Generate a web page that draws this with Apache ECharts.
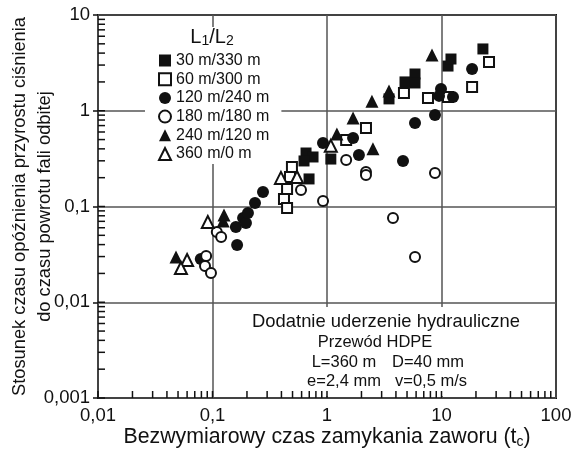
<!DOCTYPE html>
<html><head><meta charset="utf-8">
<script src="https://cdn.jsdelivr.net/npm/echarts@6/dist/echarts.min.js"></script>
<style>html,body{margin:0;padding:0;background:#fff}#c{width:577px;height:452px}</style>
</head><body><div id="c"></div>
<script>
const seriesNames = ['30 m/330 m','60 m/300 m','120 m/240 m','180 m/180 m','240 m/120 m','360 m/0 m'];
const sq30 = [[0.656,0.362],[0.755,0.329],[0.630,0.299],[0.697,0.194],[1.08,0.313],[3.48,1.33],[4.80,2.00],[5.87,2.42],[5.87,1.95],[11.4,2.93],[12.1,3.47],[23.0,4.42]];
const sq60 = [[0.494,0.259],[0.475,0.203],[0.448,0.152],[0.421,0.120],[0.448,0.0964],[1.47,0.495],[2.19,0.66],[4.70,1.53],[7.62,1.36],[11.4,1.39],[18.5,1.77],[26.0,3.23]];
const ci120 = [[0.079,0.0283],[0.164,0.0396],[0.160,0.0611],[0.185,0.0759],[0.196,0.0673],[0.204,0.0855],[0.235,0.109],[0.276,0.142],[0.923,0.46],[1.69,0.52],[1.90,0.345],[4.61,0.299],[5.87,0.745],[8.77,0.903],[9.90,1.69],[9.51,1.43],[12.6,1.39],[18.5,2.73]];
const ci180 = [[0.088,0.0304],[0.086,0.0239],[0.097,0.0202],[0.109,0.0542],[0.119,0.048],[0.593,0.149],[0.923,0.114],[1.47,0.306],[2.19,0.229],[2.19,0.213],[3.77,0.0759],[5.87,0.0297],[8.77,0.224]];
const tr240 = [[0.048,0.0297],[0.126,0.0815],[0.124,0.0706],[1.22,0.57],[1.69,0.84],[2.52,0.40],[2.47,1.26],[3.48,1.61],[8.26,3.82]];
const tr360 = [[0.060,0.0276],[0.053,0.0228],[0.091,0.0689],[0.396,0.199],[0.547,0.203],[1.08,0.43]];
const xTickLabels = ['0,01','0,1','1','10','100'];
const yTickLabels = ['0,001','0,01','0,1','1','10'];
const minorMultipliers = [1,2,3,4,5,6,7,8,9];
const xDecades = [-2,-1,0,1];
const yDecades = [-3,-2,-1,0];

const FONT = 'Liberation Sans, Arial, sans-serif';
const INK = '#111';

const xTickPts = [];
xDecades.forEach(d => minorMultipliers.forEach(m => xTickPts.push([m * Math.pow(10, d), 0.001])));
const yTickPts = [];
yDecades.forEach(d => minorMultipliers.forEach(m => yTickPts.push([0.01, m * Math.pow(10, d)])));

const filled = {color: INK, opacity: 1};
const open = {color: '#fff', borderColor: INK, borderWidth: 2, opacity: 1};

const chart = echarts.init(document.getElementById('c'));
chart.setOption({
  animation: false,
  backgroundColor: '#fff',
  grid: {left: 98, right: 21, top: 15, bottom: 54, show: true, borderColor: INK, borderWidth: 2,
    backgroundColor: 'transparent', containLabel: false, outerBoundsMode: 'none'},
  xAxis: {
    type: 'log', logBase: 10, min: 0.01, max: 100,
    axisLine: {show: false},
    axisTick: {show: false},
    splitLine: {show: true, lineStyle: {color: '#555', width: 1.5}},
    axisLabel: {fontSize: 18.5, color: INK, fontFamily: FONT, margin: 8,
      formatter: v => xTickLabels[Math.round(Math.log10(v)) + 2]},
    name: 'Bezwymiarowy czas zamykania zaworu (t{s|c})',
    nameLocation: 'middle', nameGap: 28, nameMoveOverlap: false,
    nameTextStyle: {fontSize: 21.3, color: INK, fontFamily: FONT, lineHeight: 23,
      rich: {s: {fontSize: 14, lineHeight: 14, verticalAlign: 'bottom', color: INK, fontFamily: FONT}}}
  },
  yAxis: {
    type: 'log', logBase: 10, min: 0.001, max: 10,
    axisLine: {show: false},
    axisTick: {show: true, inside: false, length: 5, lineStyle: {color: INK, width: 1.5}},
    splitLine: {show: true, lineStyle: {color: '#555', width: 1.5}},
    axisLabel: {fontSize: 18.5, color: INK, fontFamily: FONT, margin: 8,
      formatter: v => yTickLabels[Math.round(Math.log10(v)) + 3]},
    name: 'Stosunek czasu opóźnienia przyrostu ciśnienia\ndo czasu powrotu fali odbitej',
    nameLocation: 'middle', nameRotate: 90, nameGap: 41, nameMoveOverlap: false,
    nameTextStyle: {fontSize: 18.3, color: INK, fontFamily: FONT, lineHeight: 25}
  },
  legend: {
    data: seriesNames, orient: 'vertical', left: 145, top: 27,
    padding: [25.5, 12, 2, 13], itemWidth: 12, itemHeight: 12, itemGap: 2.7,
    backgroundColor: '#fff',
    itemStyle: {borderWidth: 2, opacity: 1},
    textStyle: {fontSize: 16, color: INK, fontFamily: FONT, lineHeight: 12}
  },
  graphic: [
    {type: 'text', z: 10, x: 212, y: 27, style: {text: '{m|L}{s|1}{m|/L}{s|2}', align: 'center', verticalAlign: 'top',
      rich: {m: {fontSize: 20, lineHeight: 21, verticalAlign: 'top', fill: INK, fontFamily: FONT},
             s: {fontSize: 14, lineHeight: 14, verticalAlign: 'bottom', fill: INK, fontFamily: FONT}}}},
    {type: 'rect', z: 1, shape: {x: 238, y: 307, width: 316, height: 89}, style: {fill: '#fff'}},
    {type: 'text', z: 2, x: 386, y: 322, style: {text: 'Dodatnie uderzenie hydrauliczne', align: 'center', verticalAlign: 'middle', fontSize: 18.4, fill: INK, fontFamily: FONT}},
    {type: 'text', z: 2, x: 375, y: 342, style: {text: 'Przewód HDPE', align: 'center', verticalAlign: 'middle', fontSize: 16.5, fill: INK, fontFamily: FONT}},
    {type: 'text', z: 2, x: 344, y: 362, style: {text: 'L=360 m', align: 'center', verticalAlign: 'middle', fontSize: 16.5, fill: INK, fontFamily: FONT}},
    {type: 'text', z: 2, x: 428, y: 362, style: {text: 'D=40 mm', align: 'center', verticalAlign: 'middle', fontSize: 16.5, fill: INK, fontFamily: FONT}},
    {type: 'text', z: 2, x: 344, y: 381, style: {text: 'e=2,4 mm', align: 'center', verticalAlign: 'middle', fontSize: 16.5, fill: INK, fontFamily: FONT}},
    {type: 'text', z: 2, x: 431, y: 381, style: {text: 'v=0,5 m/s', align: 'center', verticalAlign: 'middle', fontSize: 16.5, fill: INK, fontFamily: FONT}}
  ],
  series: [
    {name: seriesNames[0], type: 'scatter', data: sq30, symbol: 'rect', symbolSize: 11, itemStyle: filled, z: 4},
    {name: seriesNames[1], type: 'scatter', data: sq60, symbol: 'rect', symbolSize: 10, itemStyle: open, z: 4},
    {name: seriesNames[2], type: 'scatter', data: ci120, symbol: 'circle', symbolSize: 12, itemStyle: filled, z: 4},
    {name: seriesNames[3], type: 'scatter', data: ci180, symbol: 'circle', symbolSize: 10, itemStyle: open, z: 4},
    {name: seriesNames[4], type: 'scatter', data: tr240, symbol: 'triangle', symbolSize: 13, itemStyle: filled, z: 4},
    {name: seriesNames[5], type: 'scatter', data: tr360, symbol: 'triangle', symbolSize: 12, itemStyle: open, z: 4},
    {name: 'xticks', type: 'scatter', data: xTickPts, symbol: 'rect', symbolSize: [1.5, 7], symbolOffset: [0, -3.5], itemStyle: {color: INK, opacity: 1}, silent: true, clip: false, z: 5},
    {name: 'yticks', type: 'scatter', data: yTickPts, symbol: 'rect', symbolSize: [7, 1.5], symbolOffset: [3.5, 0], itemStyle: {color: INK, opacity: 1}, silent: true, clip: false, z: 5}
  ]
});
</script></body></html>
